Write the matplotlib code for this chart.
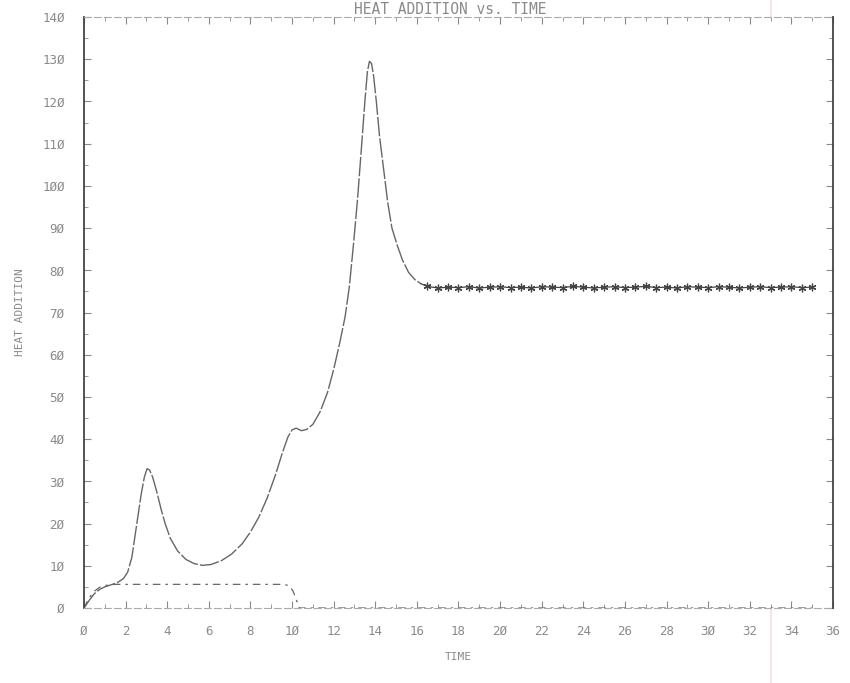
#!/usr/bin/env python3
"""
Heat addition vs. time, redrawn from an old plotter figure.
"""

import numpy as np
from matplotlib import pyplot as plt
from matplotlib.lines import Line2D
from matplotlib.ticker import MultipleLocator

# Heat addition, main curve (rise, first bump, shoulder, big peak, decay)
time_main = [0.0, 0.25, 0.5, 0.75, 1.0, 1.3, 1.6, 1.9, 2.1, 2.3, 2.45, 2.6,
             2.75, 2.9, 3.03, 3.15, 3.3, 3.5, 3.7, 3.9, 4.15, 4.5, 4.9, 5.3,
             5.7, 6.1, 6.6, 7.1, 7.6, 8.0, 8.4, 8.8, 9.2, 9.55, 9.8, 10.0,
             10.2, 10.45, 10.7, 11.0, 11.35, 11.7, 12.0, 12.3, 12.55, 12.75,
             12.95, 13.15, 13.35, 13.5, 13.62, 13.72, 13.82, 13.92, 14.05,
             14.2, 14.4, 14.6, 14.8, 15.05, 15.3, 15.6, 15.9, 16.2]
heat_main = [0.0, 1.8, 3.4, 4.4, 5.0, 5.5, 6.0, 7.0, 8.5, 12.0, 17.0, 22.0,
             27.0, 31.0, 33.0, 32.7, 31.0, 27.5, 23.5, 20.0, 16.5, 13.5, 11.5,
             10.5, 10.1, 10.3, 11.2, 12.8, 15.2, 18.0, 21.5, 26.0, 31.5, 37.0,
             40.5, 42.2, 42.6, 42.0, 42.3, 43.5, 46.5, 51.0, 56.5, 63.0, 69.0,
             76.0, 86.0, 97.0, 110.0, 120.0, 127.0, 129.5, 129.0, 126.0,
             120.0, 112.0, 104.0, 96.0, 90.0, 86.0, 82.5, 79.5, 77.8, 76.8]

# Settled part: oscillates around ~76 with small star-like wiggles
time_steady = [16.5, 17.0, 17.5, 18.0, 18.5, 19.0, 19.5, 20.0, 20.5, 21.0,
               21.5, 22.0, 22.5, 23.0, 23.5, 24.0, 24.5, 25.0, 25.5, 26.0,
               26.5, 27.0, 27.5, 28.0, 28.5, 29.0, 29.5, 30.0, 30.5, 31.0,
               31.5, 32.0, 32.5, 33.0, 33.5, 34.0, 34.5, 35.0]
heat_steady = [76.2, 75.8, 76.0, 75.9, 76.1, 75.8, 76.0, 76.1, 75.9, 76.0,
               75.8, 76.1, 76.0, 75.9, 76.2, 76.0, 75.8, 76.0, 76.1, 75.9,
               76.0, 76.2, 75.9, 76.0, 75.8, 76.1, 76.0, 75.9, 76.1, 76.0,
               75.8, 76.0, 76.1, 75.9, 76.0, 76.1, 75.9, 76.0]

# Second (dashed) trace: small constant input until ~10, then zero
time_input = [0.0, 0.2, 0.45, 0.75, 1.1, 1.5, 9.6, 9.85, 10.05, 10.2, 10.35,
              35.0]
heat_input = [0.0, 2.0, 3.8, 4.9, 5.4, 5.6, 5.6, 5.3, 4.0, 2.0, 0.0, 0.0]

xticks = list(range(0, 37, 2))
yticks = list(range(0, 141, 10))


def slashed(v):
    # plotter font writes zero with a slash
    return str(v).replace("0", "\u00d8")


if __name__ == "__main__":

    plt.rcParams["font.family"] = "DejaVu Sans Mono"
    grey = "#8a8a8a"
    ink = "#666666"

    fig = plt.figure(figsize=(8.5, 6.83), dpi=100)
    ax = fig.add_axes([84 / 850, 1 - 608 / 683, 749 / 850, 591 / 683])

    ax.plot(time_main, heat_main, c=ink, lw=1.0, dashes=(14, 1.5))
    ax.plot([time_main[-1]] + time_steady, [heat_main[-1]] + heat_steady,
            c="#444444", lw=0.9)
    ax.plot(time_steady, heat_steady, ls="none", marker=(6, 2, 0),
            ms=5.5, mew=0.9, mec="#444444")
    ax.plot(time_input, heat_input, c=ink, lw=0.9, dashes=(6, 4, 2, 4))

    ax.set_xlim(0, 36)
    ax.set_ylim(0, 140)
    ax.set_xticks(xticks)
    ax.set_xticklabels([slashed(v) for v in xticks])
    ax.set_yticks(yticks)
    ax.set_yticklabels([slashed(v) for v in yticks])
    ax.xaxis.set_minor_locator(MultipleLocator(1))
    ax.yaxis.set_minor_locator(MultipleLocator(5))

    ax.tick_params(which="both", direction="in", top=True, right=True,
                   colors=grey, labelcolor=grey, labelsize=9)
    ax.tick_params(which="major", length=5, width=0.8)
    ax.tick_params(which="minor", length=3, width=0.6)
    ax.tick_params(axis="x", pad=12)
    ax.tick_params(axis="y", pad=14)

    for side in ["left", "right"]:
        ax.spines[side].set_color("#444444")
        ax.spines[side].set_linewidth(1.3)
    for side in ["top", "bottom"]:
        ax.spines[side].set_color("#aaaaaa")
        ax.spines[side].set_linewidth(0.8)
        ax.spines[side].set_linestyle((0, (6, 3)))

    ax.set_xlabel("TIME", fontsize=8, color=grey, labelpad=10)
    ax.set_ylabel("HEAT ADDITION", fontsize=8, color=grey, labelpad=12)
    fig.text(0.53, 1 - 9 / 683, "HEAT ADDITION vs. TIME", ha="center",
             va="center", fontsize=10.5, color=grey)

    # faint scanner streak on the original
    fig.add_artist(Line2D([771 / 850, 771 / 850], [0, 1],
                          transform=fig.transFigure, c="#f4e4e8", lw=1.5,
                          zorder=0))

    plt.savefig("out.png", dpi=100)
    plt.close()
